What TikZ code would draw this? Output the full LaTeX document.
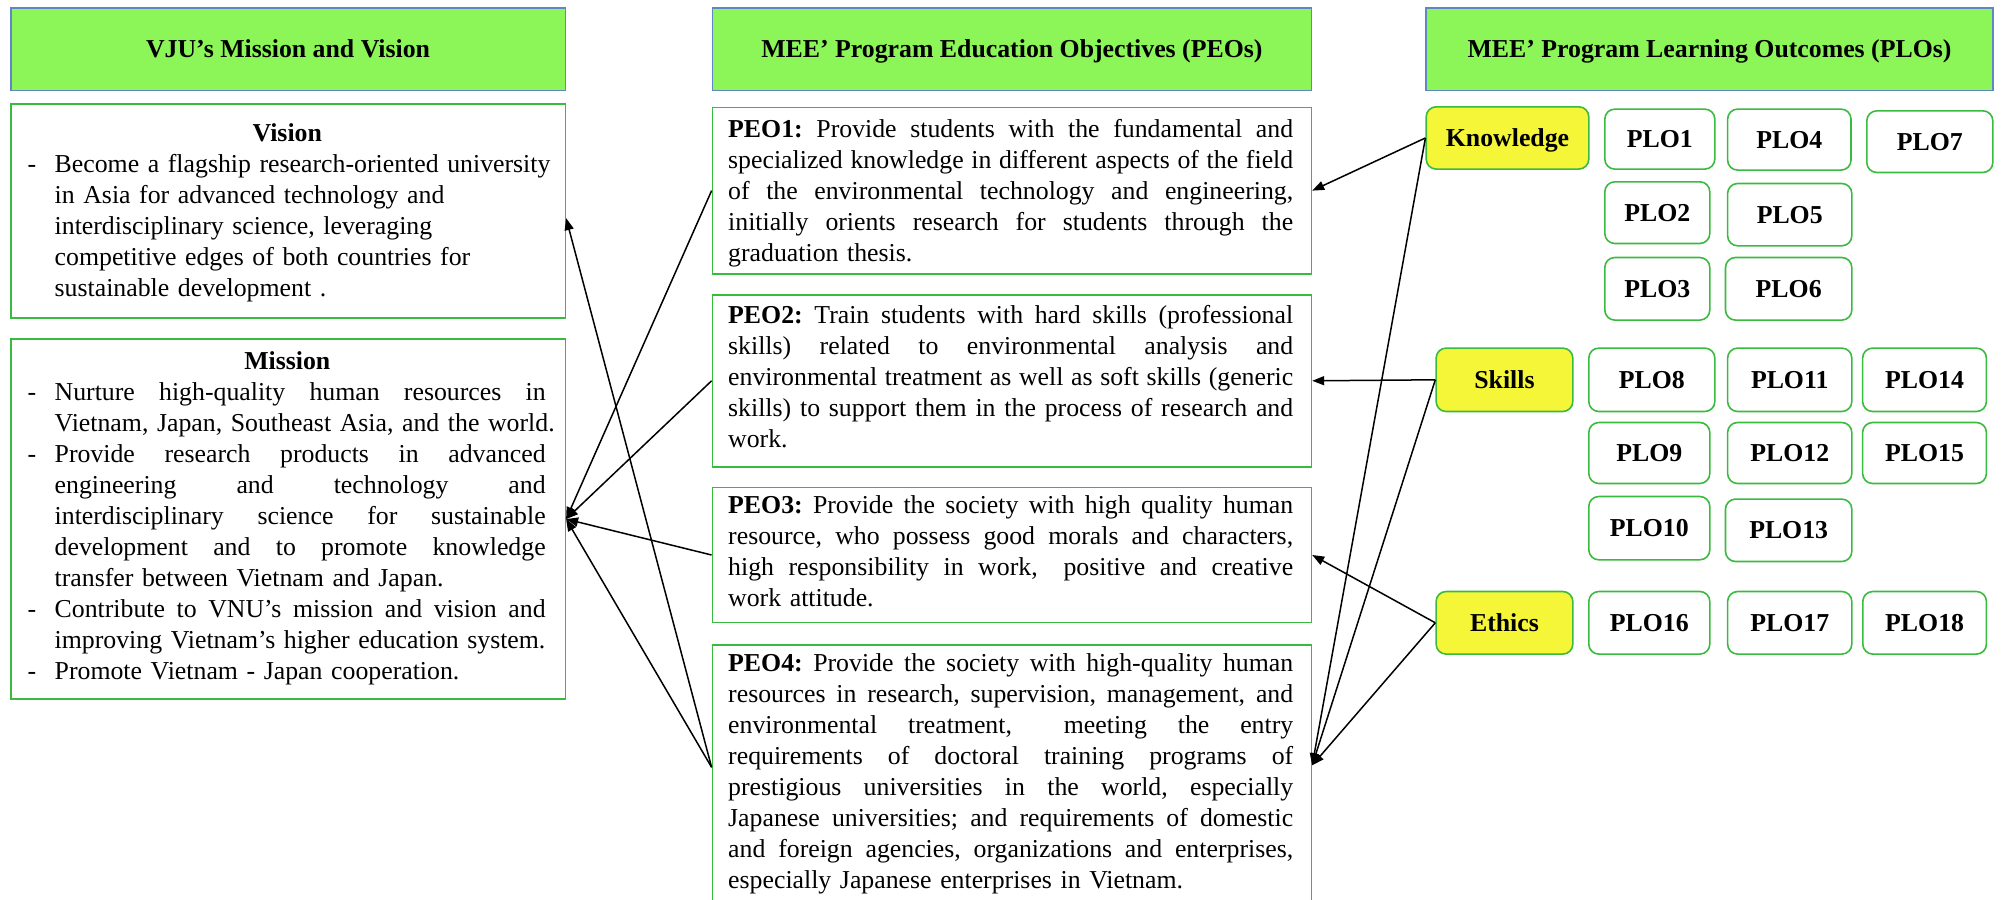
\documentclass[tikz,border=0pt]{standalone}
\usepackage{fontspec}
\setmainfont{Liberation Serif}
\usetikzlibrary{arrows.meta,calc}

\definecolor{headfill}{RGB}{140,246,88}
\definecolor{headline}{RGB}{96,134,196}
\definecolor{boxline}{RGB}{58,186,62}
\definecolor{keyfill}{RGB}{246,246,56}

% justified line of a given width: the words are spread by equal elastic gaps
\def\jsplit#1 #2\jend{#1\ifx\relax#2\relax\else\hskip 0.25em plus 1fil\relax\jsplit#2\jend\fi}
\newcommand\jline[2]{\hbox to #1{\jsplit#2 \jend}\par}
% flush-left line of a given width
\newcommand\lline[2]{\hbox to #1{#2\hfil}\par}
% a doubled word gap inside a justified line
\newcommand\dgap{\hskip 0.5em plus 1.6fil\relax}
% dash bullet hanging in the left margin
\newcommand\hdash{\llap{\hbox to 27pt{-\hfil}}}
\newcommand\bodyfont{\fontsize{25.8}{31}\selectfont\frenchspacing}

\tikzset{
  headbox/.style={draw=headline, fill=headfill, line width=1.6pt, inner sep=0pt,
    anchor=north west, minimum height=82.5pt, text height=17pt, text depth=0pt,
    font=\fontsize{25.8}{31}\selectfont\bfseries},
  framebox/.style={draw=boxline, line width=1.6pt, inner sep=0pt, anchor=north west},
  body/.style={font=\bodyfont, inner sep=0pt, anchor=base west},
  subhead/.style={font=\fontsize{25.8}{31}\selectfont\bfseries, inner sep=0pt, anchor=base},
  tag/.style 2 args={draw=boxline, line width=1.6pt, rounded corners=10pt,
    inner sep=0pt, anchor=north west, minimum width=#1, minimum height=#2,
    text height=17pt, text depth=0pt, font=\fontsize{25.8}{31}\selectfont\bfseries},
  keytag/.style 2 args={tag={#1}{#2}, fill=keyfill},
  link/.style={-{Triangle[length=12pt,width=9pt]}, line width=1.5pt, black}
}

\begin{document}
\begin{tikzpicture}[x=1pt, y=-1pt]
\useasboundingbox (0,0) rectangle (2004,899);
\clip (0,0) rectangle (2004,899);

% ---------- column headers ----------
\node[headbox, minimum width=554.5pt] (h1) at (10,7) {VJU’s Mission and Vision};
\node[headbox, minimum width=599pt] (h2) at (711.6,7) {MEE’ Program Education Objectives (PEOs)};
\node[headbox, minimum width=566.6pt] (h3) at (1425.4,7) {MEE’ Program Learning Outcomes (PLOs)};

% ---------- mission and vision ----------
\node[framebox, minimum width=554.5pt, minimum height=214pt] (vision) at (10,103.3) {};
\node[subhead] (visionhead) at (287.3,141.5) {Vision};
\node[body, text width=491pt] (visiontext) at (54.5,172.5) {%
\lline{491pt}{\hdash Become a flagship research-oriented university}%
\lline{491pt}{in Asia for advanced technology and}%
\lline{491pt}{interdisciplinary science, leveraging}%
\lline{491pt}{competitive edges of both countries for}%
\lline{491pt}{sustainable development .}};

\node[framebox, minimum width=554.5pt, minimum height=360pt] (mission) at (10,338.3) {};
\node[subhead] (missionhead) at (287.3,369.5) {Mission};
\node[body, text width=491pt] (missiontext) at (54.5,400.5) {%
\jline{491pt}{\hdash Nurture high-quality human resources in}%
\lline{491pt}{Vietnam, Japan, Southeast Asia, and the world.}%
\jline{491pt}{\hdash Provide research products in advanced}%
\jline{491pt}{engineering and technology and}%
\jline{491pt}{interdisciplinary science for sustainable}%
\jline{491pt}{development and to promote knowledge}%
\lline{491pt}{transfer between Vietnam and Japan.}%
\jline{491pt}{\hdash Contribute to VNU’s mission and vision and}%
\lline{491pt}{improving Vietnam’s higher education system.}%
\lline{491pt}{\hdash Promote Vietnam - Japan cooperation.}};

% ---------- program education objectives ----------
\node[framebox, minimum width=599pt, minimum height=166.3pt] (peo1) at (711.6,106.7) {};
\node[body, text width=565pt] (peo1text) at (728,137) {%
\jline{565pt}{\textbf{PEO1:} Provide students with the fundamental and}%
\jline{565pt}{specialized knowledge in different aspects of the field}%
\jline{565pt}{of the environmental technology and engineering,}%
\jline{565pt}{initially orients research for students through the}%
\lline{565pt}{graduation thesis.}};

\node[framebox, minimum width=599pt, minimum height=172pt] (peo2) at (711.6,294) {};
\node[body, text width=565pt] (peo2text) at (728,323.5) {%
\jline{565pt}{\textbf{PEO2:} Train students with hard skills (professional}%
\jline{565pt}{skills) related to environmental analysis and}%
\jline{565pt}{environmental treatment as well as soft skills (generic}%
\jline{565pt}{skills) to support them in the process of research and}%
\lline{565pt}{work.}};

\node[framebox, minimum width=599pt, minimum height=135pt] (peo3) at (711.6,486.7) {};
\node[body, text width=565pt] (peo3text) at (728,513.3) {%
\jline{565pt}{\textbf{PEO3:} Provide the society with high quality human}%
\jline{565pt}{resource, who possess good morals and characters,}%
\jline{565pt}{high responsibility in work,\dgap positive and creative}%
\lline{565pt}{work attitude.}};

\node[framebox, minimum width=599pt, minimum height=272pt] (peo4) at (711.6,644.3) {};
\node[body, text width=565pt] (peo4text) at (728,671.7) {%
\jline{565pt}{\textbf{PEO4:} Provide the society with high-quality human}%
\jline{565pt}{resources in research, supervision, management, and}%
\jline{565pt}{environmental treatment,\dgap meeting the entry}%
\jline{565pt}{requirements of doctoral training programs of}%
\jline{565pt}{prestigious universities in the world, especially}%
\jline{565pt}{Japanese universities; and requirements of domestic}%
\jline{565pt}{and foreign agencies, organizations and enterprises,}%
\lline{565pt}{especially Japanese enterprises in Vietnam.}};

% ---------- program learning outcomes ----------
\node[keytag={162.6pt}{62.3pt}] (know) at (1425.4,106) {Knowledge};
\node[tag={110pt}{60pt}]     (plo1) at (1604,108.3) {PLO1};
\node[tag={123.4pt}{61pt}]   (plo4) at (1726.8,108.3) {PLO4};
\node[tag={126pt}{61.7pt}]   (plo7) at (1866,110) {PLO7};
\node[tag={105pt}{61.7pt}]   (plo2) at (1604,181) {PLO2};
\node[tag={124.2pt}{62.3pt}] (plo5) at (1726.8,182.7) {PLO5};
\node[tag={105pt}{62.6pt}]   (plo3) at (1604,256.7) {PLO3};
\node[tag={126.3pt}{62.6pt}] (plo6) at (1724.7,256.7) {PLO6};

\node[keytag={136.7pt}{63.4pt}] (skill) at (1435.3,347.3) {Skills};
\node[tag={126pt}{63.4pt}]   (plo8)  at (1588,347.3) {PLO8};
\node[tag={124.2pt}{63.4pt}] (plo11) at (1726.8,347.3) {PLO11};
\node[tag={123.8pt}{63.4pt}] (plo14) at (1861.8,347.3) {PLO14};
\node[tag={121pt}{61pt}]     (plo9)  at (1588,421.7) {PLO9};
\node[tag={124.2pt}{61pt}]   (plo12) at (1726.8,421.7) {PLO12};
\node[tag={123.8pt}{61pt}]   (plo15) at (1861.8,421.7) {PLO15};
\node[tag={121pt}{63.3pt}]   (plo10) at (1588,495.7) {PLO10};
\node[tag={126.3pt}{62.4pt}] (plo13) at (1724.7,498.3) {PLO13};

\node[keytag={136.7pt}{62.6pt}] (eth) at (1435.3,590.7) {Ethics};
\node[tag={121pt}{62.6pt}]   (plo16) at (1588,590.7) {PLO16};
\node[tag={124.2pt}{62.6pt}] (plo17) at (1726.8,590.7) {PLO17};
\node[tag={123.6pt}{62.6pt}] (plo18) at (1862,590.7) {PLO18};

% ---------- connectors ----------
\coordinate (p4w) at ($(peo4.north west)+(0,123)$);
\coordinate (p4e) at ($(peo4.north east)+(0,121)$);
\coordinate (vin) at ($(vision.east)+(0,7)$);

\draw[link] (peo1.west) -- (mission.east);
\draw[link] (peo2.west) -- (mission.east);
\draw[link] (peo3.west) -- (mission.east);
\draw[link] (p4w) -- (mission.east);
\draw[link] (p4w) -- (vin);

\draw[link] (know.west) -- (peo1.east);
\draw[link] (know.west) -- (p4e);
\draw[link] (skill.west) -- (peo2.east);
\draw[link] (skill.west) -- (p4e);
\draw[link] (eth.west) -- (peo3.east);
\draw[link] (eth.west) -- (p4e);
\end{tikzpicture}
\end{document}
